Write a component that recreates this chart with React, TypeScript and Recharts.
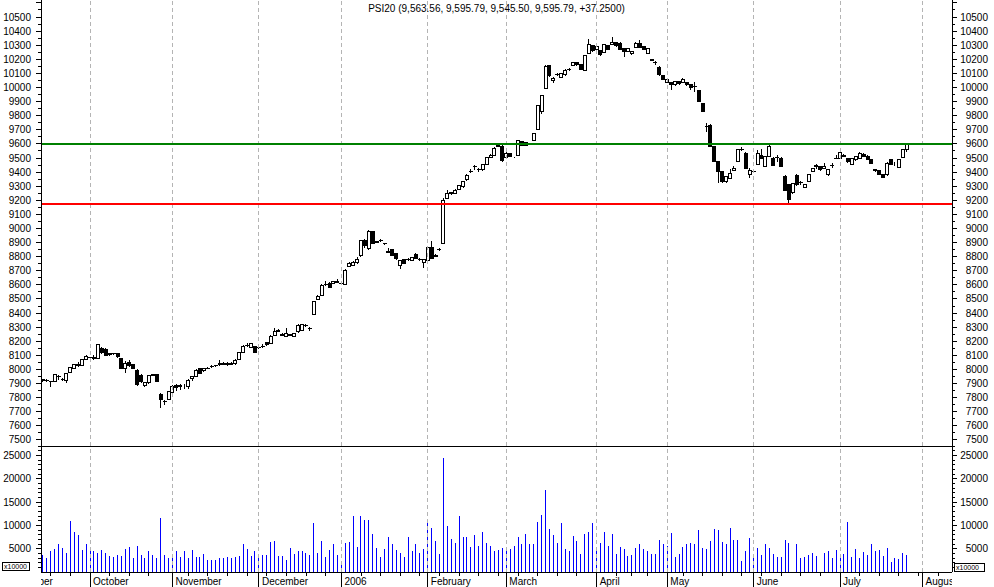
import React from 'react';
import { ComposedChart, Bar, XAxis, YAxis, ReferenceLine } from 'recharts';

// daily PSI20 candles, Sep 2005 - Jul 2006 (one entry per trading slot)
const openP = [
  7925, 7920, 7915, 7914, 7950, 7930, 7925, 7980, 8010, 8030,
  8028, 8068, 8085, 8080, 8080, 8150, 8140, 8105, 8110, 8115,
  8080, 8010, 8050, 8035, 7995, 7960, 7890, 7905, 7960, 7966,
  7820, 7775, 7790, 7835, 7885, 7885, 7880, 7880, 7935, 7950,
  8005, 7990, 8005, 8020, 8025, 8035, 8038, 8036, 8040, 8039,
  8072, 8119, 8170, 8157, 8166, 8155, 8160, 8190, 8181, 8244,
  8273, 8245, 8237, 8245, 8233, 8268, 8280, 8315, 8292, 8391,
  8493, 8528, 8604, 8611, 8611, 8620, 8611, 8604, 8729, 8741,
  8757, 8805, 8918, 8859, 8977, 8906, 8918, 8895, 8835, 8852,
  8824, 8741, 8781, 8781, 8776, 8819, 8781, 8757, 8776, 8866,
  8800, 8852, 8897, 9214, 9255, 9250, 9280, 9297, 9344, 9403,
  9439, 9415, 9415, 9455, 9503, 9521, 9580, 9585, 9505, 9529,
  9503, 9521, 9616, 9609, 9604, 9623, 9703, 9831, 9994, 10153,
  10049, 10089, 10072, 10089, 10129, 10153, 10176, 10160, 10120, 10242,
  10295, 10266, 10261, 10247, 10295, 10302, 10318, 10313, 10278, 10254,
  10238, 10285, 10313, 10290, 10243, 10198, 10180, 10143, 10082, 10034,
  10034, 10018, 10041, 10034, 10034, 10018, 10008, 9978, 9883, 9725,
  9727, 9580, 9474, 9403, 9332, 9356, 9410, 9474, 9561, 9533,
  9384, 9403, 9457, 9521, 9439, 9509, 9498, 9505, 9498, 9372,
  9309, 9254, 9379, 9325, 9292, 9332, 9403, 9439, 9439, 9427,
  9380, 9446, 9497, 9498, 9520, 9493, 9457, 9486, 9498, 9528,
  9514, 9490, 9415, 9408, 9380, 9380, 9486, 9450, 9434, 9502,
  9563.56,
];
const highP = [
  7935, 7930, 7920, 7965, 7962, 7940, 7975, 8020, 8040, 8050,
  8070, 8100, 8092, 8100, 8178, 8160, 8150, 8120, 8120, 8118,
  8085, 8060, 8070, 8040, 8000, 7965, 7910, 7960, 7970, 7970,
  7830, 7785, 7850, 7890, 7895, 7895, 7895, 7935, 7955, 8000,
  8010, 8012, 8015, 8030, 8035, 8067, 8055, 8055, 8050, 8072,
  8125, 8175, 8185, 8185, 8170, 8165, 8181, 8195, 8242, 8292,
  8290, 8260, 8292, 8255, 8260, 8320, 8325, 8325, 8300, 8485,
  8530, 8605, 8630, 8620, 8630, 8640, 8620, 8710, 8760, 8770,
  8795, 8920, 8925, 8990, 8985, 8910, 8925, 8900, 8860, 8856,
  8828, 8780, 8785, 8790, 8800, 8825, 8790, 8785, 8870, 8913,
  8818, 8860, 9215, 9270, 9260, 9280, 9310, 9340, 9385, 9420,
  9450, 9430, 9460, 9510, 9530, 9575, 9605, 9590, 9540, 9535,
  9505, 9630, 9620, 9612, 9608, 9680, 9875, 9945, 10160, 10158,
  10077, 10100, 10100, 10130, 10140, 10180, 10180, 10165, 10230, 10341,
  10300, 10295, 10265, 10306, 10300, 10356, 10325, 10320, 10283, 10283,
  10258, 10320, 10340, 10295, 10282, 10200, 10190, 10150, 10088, 10062,
  10040, 10045, 10048, 10065, 10040, 10022, 10041, 9985, 9888, 9746,
  9740, 9585, 9480, 9410, 9372, 9420, 9443, 9565, 9575, 9540,
  9427, 9415, 9560, 9561, 9515, 9590, 9505, 9521, 9505, 9380,
  9315, 9320, 9390, 9340, 9315, 9390, 9432, 9455, 9445, 9462,
  9425, 9462, 9521, 9545, 9525, 9498, 9503, 9515, 9545, 9535,
  9520, 9495, 9420, 9412, 9385, 9470, 9495, 9470, 9495, 9565,
  9595.79,
];
const lowP = [
  7912, 7910, 7875, 7910, 7925, 7920, 7905, 7975, 8005, 8020,
  8022, 8065, 8075, 8070, 8075, 8110, 8095, 8098, 8100, 8085,
  8000, 7975, 8020, 8000, 7880, 7905, 7875, 7900, 7955, 7910,
  7725, 7745, 7785, 7830, 7850, 7855, 7860, 7860, 7920, 7945,
  7970, 7985, 8000, 8010, 8015, 8025, 8030, 8025, 8030, 8035,
  8068, 8115, 8160, 8150, 8115, 8145, 8150, 8170, 8178, 8240,
  8265, 8235, 8232, 8235, 8228, 8262, 8275, 8300, 8270, 8388,
  8490, 8525, 8595, 8575, 8605, 8610, 8600, 8600, 8725, 8735,
  8750, 8800, 8865, 8850, 8890, 8895, 8905, 8880, 8825, 8808,
  8780, 8710, 8748, 8770, 8770, 8785, 8770, 8717, 8770, 8782,
  8795, 8840, 8890, 9210, 9240, 9245, 9275, 9290, 9340, 9395,
  9415, 9400, 9410, 9450, 9498, 9515, 9575, 9475, 9500, 9505,
  9500, 9515, 9588, 9585, 9600, 9620, 9700, 9815, 9990, 10075,
  10030, 10080, 10068, 10085, 10120, 10150, 10155, 10125, 10115, 10238,
  10255, 10262, 10226, 10243, 10268, 10298, 10290, 10266, 10219, 10250,
  10234, 10280, 10280, 10266, 10238, 10185, 10160, 10085, 10053, 10030,
  9982, 10010, 10020, 10030, 10010, 9982, 9970, 9895, 9825, 9687,
  9575, 9470, 9320, 9325, 9325, 9350, 9405, 9470, 9550, 9420,
  9355, 9395, 9450, 9495, 9435, 9505, 9445, 9474, 9435, 9265,
  9183, 9245, 9300, 9310, 9285, 9330, 9398, 9420, 9410, 9420,
  9375, 9427, 9490, 9495, 9505, 9468, 9450, 9480, 9495, 9505,
  9485, 9455, 9400, 9380, 9360, 9375, 9450, 9440, 9430, 9498,
  9545.5,
];
const closeP = [
  7928, 7922, 7912, 7962, 7948, 7932, 7970, 8015, 8032, 8032,
  8068, 8094, 8086, 8082, 8174, 8120, 8100, 8115, 8112, 8090,
  8010, 8044, 8030, 8010, 7895, 7915, 7905, 7955, 7966, 7915,
  7790, 7770, 7845, 7880, 7875, 7878, 7880, 7925, 7950, 7996,
  7975, 8008, 8010, 8022, 8027, 8039, 8040, 8039, 8038, 8067,
  8119, 8162, 8173, 8181, 8119, 8157, 8162, 8175, 8237, 8273,
  8275, 8244, 8256, 8244, 8256, 8315, 8320, 8310, 8290, 8481,
  8521, 8599, 8606, 8580, 8623, 8621, 8612, 8705, 8753, 8757,
  8781, 8913, 8876, 8977, 8895, 8904, 8915, 8893, 8833, 8812,
  8788, 8776, 8753, 8779, 8795, 8788, 8780, 8781, 8866, 8788,
  8812, 8850, 9200, 9246, 9245, 9273, 9304, 9333, 9375, 9405,
  9441, 9417, 9455, 9503, 9521, 9569, 9590, 9481, 9533, 9510,
  9503, 9623, 9592, 9590, 9604, 9675, 9869, 9940, 10148, 10082,
  10065, 10091, 10096, 10124, 10131, 10176, 10160, 10129, 10224, 10302,
  10261, 10290, 10231, 10302, 10271, 10318, 10295, 10271, 10254, 10278,
  10254, 10309, 10285, 10271, 10278, 10190, 10178, 10089, 10058, 10058,
  10018, 10041, 10025, 10058, 10018, 10001, 10006, 9900, 9829, 9722,
  9580, 9474, 9403, 9332, 9368, 9391, 9427, 9561, 9563, 9427,
  9408, 9405, 9533, 9498, 9509, 9585, 9450, 9507, 9439, 9273,
  9207, 9316, 9309, 9327, 9309, 9384, 9427, 9450, 9420, 9439,
  9420, 9448, 9495, 9538, 9512, 9474, 9498, 9509, 9533, 9509,
  9490, 9462, 9413, 9384, 9363, 9462, 9457, 9450, 9490, 9561,
  9595.79,
];
// volume, x10000
const volume = [
  3700, 2900, 4600, 5000, 6000, 5200, 4100, 11000, 8600, 8000, 4800, 6000,
  4600, 4600, 4100, 4800, 4100, 3500, 3300, 3700, 3500, 5000, 5400, 2900,
  5600, 3700, 3100, 4600, 3700, 3100, 11600, 3700, 3100, 3900, 4400, 3300,
  4400, 3100, 4800, 3300, 3300, 3900, 2600, 2600, 2600, 3100, 3100, 3300,
  3100, 3300, 3500, 6000, 5000, 3500, 4600, 3100, 3700, 3700, 6500, 6700,
  3500, 3500, 2600, 5200, 3900, 4400, 4600, 4100, 3700, 10600, 4100, 6700,
  3300, 4800, 6000, 3700, 2000, 6300, 6500, 11900, 5400, 12100, 11200, 11200,
  8200, 5200, 3300, 5000, 7600, 6000, 4800, 4100, 3300, 7600, 4400, 5900,
  4100, 5000, 10800, 9500, 6700, 3900, 24500, 9900, 7100, 6300, 11900, 7600,
  7400, 5400, 8000, 5600, 8600, 6300, 5600, 4600, 4800, 5200, 5000, 5000,
  5600, 7400, 6000, 8200, 6000, 6000, 10800, 12300, 17600, 9300, 8000, 6300,
  10400, 5000, 4600, 7800, 6700, 3900, 8200, 8600, 10400, 4400, 6300, 8600,
  5600, 8200, 3900, 5400, 5000, 3500, 3700, 5200, 5900, 5000, 4600, 3900,
  3900, 6900, 5900, 5600, 8400, 3300, 3900, 5400, 5900, 6300, 6100, 8900,
  5200, 5000, 6700, 9300, 9100, 6500, 5900, 9500, 6900, 6900, 2400, 4560,
  7350, 3700, 5200, 3700, 6060, 5200, 3900, 3300, 3300, 6900, 6300, null,
  6060, 3100, 3300, 3700, 4100, 3500, null, 4100, 4560, 3100, 4800, 3900,
  3900, 10800, 3300, 5000, 3100, 4350, 3700, 6060, 4560, 4800, 3500, 5200,
  2200, 3100, 2850, 4100, 3700,
];

// first trading slot of each month, and of each week
const monthStarts = [0, 12, 33, 55, 76, 98, 118, 141, 159, 181, 203, 224];
const monthLabels = ['September', 'October', 'November', 'December', '2006', 'February', 'March', 'April', 'May', 'June', 'July', 'August'];
const weekStarts = [2, 7, 17, 22, 27, 37, 42, 47, 52, 57, 62, 67, 72, 81, 86, 91, 96, 101, 106, 111, 116, 121, 126, 131, 136, 146, 150, 154, 163, 168, 173, 178, 183, 188, 193, 198, 208, 213, 218, 223, 228];

const priceTicks = Array.from({ length: 63 }, (_, k) => 7500 + k * 50);
const volTicks = Array.from({ length: 27 }, (_, k) => 1000 + k * 1000);

const resistance = 9595.79;
const support = 9175;
const title = 'PSI20 (9,563.56, 9,595.79, 9,545.50, 9,595.79, +37.2500)';

const SLOTS = 232;
const PLOT_LEFT = 41;
const PLOT_RIGHT = 952;
const FONT = '"Liberation Sans", Arial, sans-serif';

const data = Array.from({ length: SLOTS }, (_, i) => ({
  i,
  o: openP[i] ?? null,
  h: highP[i] ?? null,
  l: lowP[i] ?? null,
  c: closeP[i] ?? null,
  v: volume[i] ?? null,
}));

const Candle = (props: any) => {
  const { x, y, width, height, payload } = props;
  if (!payload || payload.h == null) return null;
  const cx = x + width / 2;
  const top = Math.min(y, y + height);
  const span = Math.abs(height);
  const range = payload.h - payload.l;
  const toY = (v: number) => (range > 0 ? top + ((payload.h - v) / range) * span : top);
  const yo = toY(payload.o);
  const yc = toY(payload.c);
  const up = payload.c >= payload.o;
  return (
    <g>
      <line x1={cx} x2={cx} y1={top} y2={top + span} stroke="#000" />
      <rect
        x={cx - 1.5}
        y={Math.min(yo, yc)}
        width={3}
        height={Math.abs(yo - yc)}
        fill={up ? '#fff' : '#000'}
        stroke="#000"
      />
    </g>
  );
};

const VolBar = (props: any) => {
  const { x, y, width, height } = props;
  if (!height) return null;
  const cx = x + width / 2;
  return <line x1={cx} x2={cx} y1={y} y2={y + height} stroke="#0000ff" />;
};

const LeftTick = ({ x, y, payload, step, maxLabel, minLabel }: any) => {
  const major = payload.value % step === 0;
  const showLabel = major && payload.value <= maxLabel && payload.value >= minLabel;
  return (
    <g>
      <line x1={x - (major ? 5 : 3)} x2={x} y1={y} y2={y} stroke="#000" />
      {showLabel && (
        <text x={x - 10} y={y} dy={3.5} textAnchor="end" fontSize={10} fontFamily={FONT} fill="#000">
          {payload.value}
        </text>
      )}
    </g>
  );
};

const RightTick = ({ x, y, payload, step, maxLabel, minLabel }: any) => {
  const major = payload.value % step === 0;
  const showLabel = major && payload.value <= maxLabel && payload.value >= minLabel;
  return (
    <g>
      <line x1={x} x2={x + (major ? 5 : 3)} y1={y} y2={y} stroke="#000" />
      {showLabel && (
        <text x={x + 36} y={y} dy={3.5} textAnchor="end" fontSize={10} fontFamily={FONT} fill="#000">
          {payload.value}
        </text>
      )}
    </g>
  );
};

const DateTick = ({ x, y, payload }: any) => {
  const m = monthStarts.indexOf(payload.value);
  if (m < 0) return <line x1={x} x2={x} y1={y} y2={y + 4} stroke="#000" />;
  const first = m === 0;
  return (
    <g>
      <defs>
        <clipPath id={`dclip${m}`}>
          <rect x={PLOT_LEFT} y={y} width={PLOT_RIGHT - PLOT_LEFT} height={16} />
        </clipPath>
      </defs>
      {!first && <line x1={x} x2={x} y1={y} y2={y + 16} stroke="#000" />}
      <text
        x={first ? x + 10 : x + 3}
        y={y + 13}
        textAnchor={first ? 'end' : 'start'}
        fontSize={10}
        fontFamily={FONT}
        fill="#000"
        clipPath={`url(#dclip${m})`}
      >
        {monthLabels[m]}
      </text>
    </g>
  );
};

const gridProps = { stroke: '#b4b4b4', strokeDasharray: '4 3' };

const unitBox = {
  position: 'absolute' as const,
  height: 7,
  border: '1px solid #000',
  fontSize: 7,
  lineHeight: '7px',
  paddingLeft: 1,
  background: '#fff',
  overflow: 'hidden',
  whiteSpace: 'nowrap' as const,
};

export default function App() {
  return (
    <div
      className="psi"
      style={{ position: 'absolute', left: 0, top: 0, width: 994, height: 587, background: '#fff', overflow: 'hidden', fontFamily: FONT }}
    >
      <style>{'.psi line, .psi rect, .psi path { shape-rendering: crispEdges; }'}</style>

      <div style={{ position: 'absolute', left: 0, top: 0 }}>
        <ComposedChart width={994} height={446} data={data} margin={{ top: 0, right: 0, bottom: 0, left: 0 }}>
          <XAxis dataKey="i" hide />
          <YAxis
            yAxisId="l"
            orientation="left"
            width={PLOT_LEFT}
            domain={[7457.4, 10620.6]}
            allowDataOverflow
            ticks={priceTicks}
            interval={0}
            tickSize={0}
            tickMargin={0}
            axisLine={{ stroke: '#000' }}
            tick={(p: any) => <LeftTick {...p} step={100} maxLabel={10500} minLabel={7500} />}
          />
          <YAxis
            yAxisId="r"
            orientation="right"
            width={994 - PLOT_RIGHT}
            domain={[7457.4, 10620.6]}
            allowDataOverflow
            ticks={priceTicks}
            interval={0}
            tickSize={0}
            tickMargin={0}
            axisLine={{ stroke: '#000' }}
            tick={(p: any) => <RightTick {...p} step={100} maxLabel={10500} minLabel={7500} />}
          />
          {monthStarts.slice(1).map((m) => (
            <ReferenceLine key={m} x={m} yAxisId="l" {...gridProps} />
          ))}
          <Bar
            yAxisId="l"
            dataKey={(d: any) => (d.h == null ? null : [d.l, d.h])}
            shape={(p: any) => <Candle {...p} />}
            isAnimationActive={false}
          />
          <ReferenceLine y={resistance} yAxisId="l" stroke="#008000" strokeWidth={2} />
          <ReferenceLine y={support} yAxisId="l" stroke="#ff0000" strokeWidth={2} />
        </ComposedChart>
      </div>

      <div style={{ position: 'absolute', left: 0, top: 446 }}>
        <ComposedChart width={994} height={141} data={data} margin={{ top: 0, right: 0, bottom: 0, left: 0 }}>
          <XAxis
            dataKey="i"
            height={15}
            ticks={[...monthStarts, ...weekStarts]}
            interval={0}
            tickSize={0}
            tickMargin={0}
            axisLine={{ stroke: '#000' }}
            tick={(p: any) => <DateTick {...p} />}
          />
          <YAxis
            yAxisId="l"
            orientation="left"
            width={PLOT_LEFT}
            domain={[0, 27000]}
            allowDataOverflow
            ticks={volTicks}
            interval={0}
            tickSize={0}
            tickMargin={0}
            axisLine={{ stroke: '#000' }}
            tick={(p: any) => <LeftTick {...p} step={5000} maxLabel={25000} minLabel={5000} />}
          />
          <YAxis
            yAxisId="r"
            orientation="right"
            width={994 - PLOT_RIGHT}
            domain={[0, 27000]}
            allowDataOverflow
            ticks={volTicks}
            interval={0}
            tickSize={0}
            tickMargin={0}
            axisLine={{ stroke: '#000' }}
            tick={(p: any) => <RightTick {...p} step={5000} maxLabel={25000} minLabel={5000} />}
          />
          {monthStarts.slice(1).map((m) => (
            <ReferenceLine key={m} x={m} yAxisId="l" {...gridProps} />
          ))}
          <Bar yAxisId="l" dataKey="v" shape={(p: any) => <VolBar {...p} />} isAnimationActive={false} />
        </ComposedChart>
      </div>

      {/* panel divider */}
      <div style={{ position: 'absolute', left: PLOT_LEFT, top: 446, width: PLOT_RIGHT - PLOT_LEFT, height: 1, background: '#000' }} />

      <div
        style={{ position: 'absolute', left: PLOT_LEFT, top: 3, width: PLOT_RIGHT - PLOT_LEFT, textAlign: 'center', fontSize: 10, lineHeight: '12px', color: '#000' }}
      >
        {title}
      </div>

      <div style={{ ...unitBox, left: 2, top: 562, width: 25 }}>x10000</div>
      <div style={{ ...unitBox, left: 954, top: 563, width: 28 }}>x10000</div>
    </div>
  );
}
